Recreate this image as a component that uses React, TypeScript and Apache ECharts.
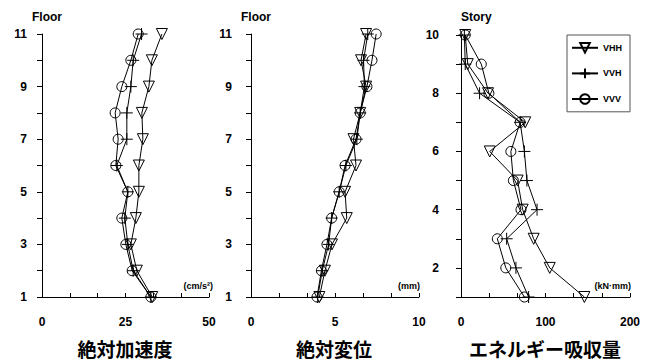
import React, { useEffect, useRef } from 'react';
import * as echarts from 'echarts';

const floors = [1, 2, 3, 4, 5, 6, 7, 8, 9, 10, 11];
const stories = [1, 2, 3, 4, 5, 6, 7, 8, 9, 10];

const accVHH = [33, 28.4, 26.6, 28.1, 29, 29, 30.2, 29.9, 32, 32.9, 35.9];
const accVVH = [32.6, 27.3, 25.7, 24.8, 25.7, 22.4, 25.4, 25.4, 26.6, 27.3, 29.8];
const accVVV = [32.6, 27, 25.1, 23.9, 25.7, 22.1, 22.8, 21.9, 23.9, 26.6, 28.8];

const dispVHH = [4.07, 4.4, 4.82, 5.7, 5.6, 6.25, 6.1, 6.5, 6.85, 6.55, 6.85];
const dispVVH = [3.97, 4.24, 4.62, 4.8, 5.25, 5.65, 6.3, 6.5, 6.75, 6.7, 6.95];
const dispVVV = [3.93, 4.19, 4.52, 4.8, 5.25, 5.6, 6.25, 6.5, 6.9, 7.2, 7.45];

const enVHH = [146, 105, 86, 73, 67, 34, 76, 32, 8, 5];
const enVVH = [80, 65, 54, 90, 78, 75, 70, 22, 5, 4];
const enVVV = [75, 53, 43, 71, 62, 59, 70, 33, 24, 5];

const seriesNames = ['VHH', 'VVH', 'VVV'];
const panelTitles = ['絶対加速度', '絶対変位', 'エネルギー吸収量'];
const unitLabels = ['(cm/s²)', '(mm)', '(kN·mm)'];
const yNames = ['Floor', 'Floor', 'Story'];

const FONT = '"Liberation Sans", Arial, sans-serif';
const CJK = '"Noto Sans CJK JP", sans-serif';

const symbols: Record<string, any> = {
  VHH: { symbol: 'triangle', symbolRotate: 180, symbolSize: 11 },
  VVH: { symbol: 'path://M5,0V10M0,5H10', symbolSize: 12 },
  VVV: { symbol: 'circle', symbolSize: 10 },
};

function mkSeries(name: string, vals: number[], levels: number[], idx: number) {
  return {
    type: 'line',
    name,
    xAxisIndex: idx,
    yAxisIndex: idx,
    data: vals.map((v, i) => [v, levels[i]]),
    ...symbols[name],
    lineStyle: { color: '#000', width: 1 },
    itemStyle: { color: 'rgba(255,255,255,0)', borderColor: '#000', borderWidth: 1 },
    emphasis: { disabled: true },
  };
}

export default function App() {
  const ref = useRef<HTMLDivElement>(null);
  useEffect(() => {
    if (!ref.current) return;
    const chart = echarts.init(ref.current, undefined, { renderer: 'svg' });
    const grids = [
      { left: 42, top: 34, width: 167, height: 263 },
      { left: 251, top: 34, width: 168, height: 263 },
      { left: 461, top: 35, width: 169, height: 262 },
    ];
    const xRanges = [
      [0, 50, 25],
      [0, 10, 5],
      [0, 200, 100],
    ];
    const xAxis = xRanges.map((r, i) => ({
      type: 'value',
      gridIndex: i,
      min: r[0],
      max: r[1],
      interval: r[2],
      axisLine: { show: true, lineStyle: { color: '#000', width: 1 } },
      axisTick: { show: true, inside: true, length: 4, lineStyle: { color: '#000' } },
      minorTick: { show: true, splitNumber: 3, length: 4, lineStyle: { color: '#000' } },
      splitLine: { show: false },
      axisLabel: { color: '#000', fontFamily: FONT, fontWeight: 'bold', fontSize: 12, margin: 19 },
    }));
    const yAxis = [0, 1, 2].map((i) => ({
      type: 'value',
      gridIndex: i,
      min: 1,
      max: i === 2 ? 10 : 11,
      interval: 1,
      axisLine: { show: true, onZero: false, lineStyle: { color: '#000', width: 1 } },
      axisTick: { show: true, inside: false, length: 5, lineStyle: { color: '#000' } },
      splitLine: { show: false },
      axisLabel: {
        color: '#000',
        fontFamily: FONT,
        fontWeight: 'bold',
        fontSize: 12,
        margin: i === 0 ? 15 : i === 1 ? 19 : 22,
        formatter: (v: number) => (i === 2 ? (v % 2 === 0 ? String(v) : '') : v % 2 === 1 ? String(v) : ''),
      },
    }));
    const series = [
      mkSeries('VHH', accVHH, floors, 0),
      mkSeries('VVH', accVVH, floors, 0),
      mkSeries('VVV', accVVV, floors, 0),
      mkSeries('VHH', dispVHH, floors, 1),
      mkSeries('VVH', dispVVH, floors, 1),
      mkSeries('VVV', dispVVV, floors, 1),
      mkSeries('VHH', enVHH, stories, 2),
      mkSeries('VVH', enVVH, stories, 2),
      mkSeries('VVV', enVVV, stories, 2),
    ];
    const titleX = [125, 334, 545];
    const unitRight = [213, 420, 631];
    const yNameX = [32, 241, 461];
    const graphic: any[] = [];
    panelTitles.forEach((t, i) => {
      graphic.push({
        type: 'text',
        x: titleX[i],
        y: 348,
        style: { text: t, font: `bold 19px ${CJK}`, fill: '#000', textAlign: 'center', textVerticalAlign: 'middle' },
      });
      graphic.push({
        type: 'text',
        x: unitRight[i],
        y: 286,
        style: { text: unitLabels[i], font: `bold 9px ${FONT}`, fill: '#000', textAlign: 'right', textVerticalAlign: 'middle' },
      });
      graphic.push({
        type: 'text',
        x: yNameX[i],
        y: 17,
        style: { text: yNames[i], font: `bold 12px ${FONT}`, fill: '#000', textAlign: 'left', textVerticalAlign: 'middle' },
      });
    });
    chart.setOption({
      animation: false,
      backgroundColor: '#fff',
      grid: grids,
      xAxis,
      yAxis,
      series,
      legend: {
        data: seriesNames,
        orient: 'vertical',
        left: 567,
        top: 35,
        itemWidth: 26,
        itemHeight: 12,
        itemGap: 14,
        padding: [7, 8, 7, 4],
        borderColor: '#555',
        borderWidth: 1,
        selectedMode: false,
        textStyle: { color: '#000', fontFamily: FONT, fontWeight: 'bold', fontSize: 9 },
      },
      graphic,
    });
    return () => chart.dispose();
  }, []);
  return <div ref={ref} style={{ position: 'fixed', left: 0, top: 0, width: 648, height: 360 }} />;
}
